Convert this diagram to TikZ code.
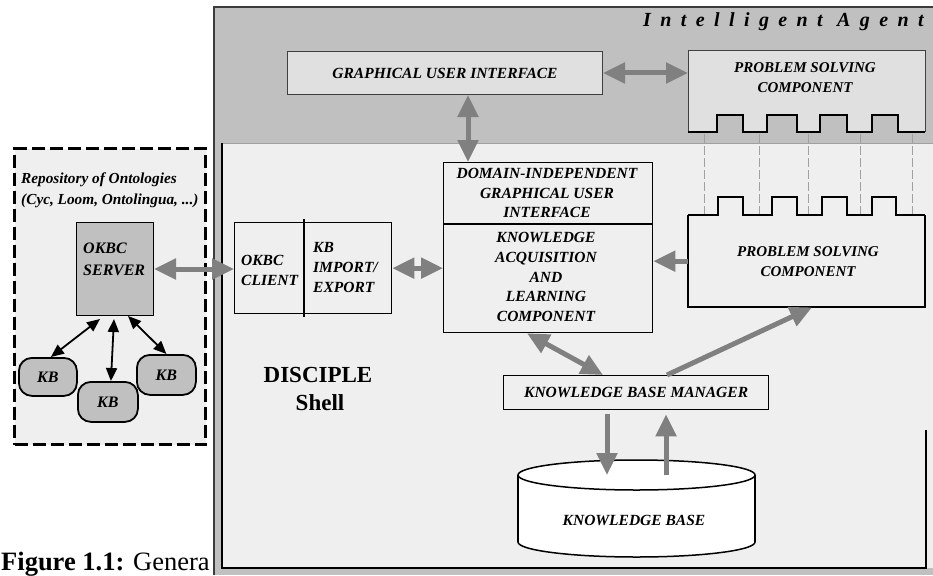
\documentclass[tikz,border=0pt]{standalone}
\usepackage{fontspec}
\setmainfont{Liberation Serif}
\newfontfamily\agentfont[LetterSpace=47]{Liberation Serif}
\usetikzlibrary{arrows.meta,calc}

\definecolor{agentgray}{HTML}{C0C0C0}
\definecolor{panelgray}{HTML}{EFEFEF}
\definecolor{boxgray}{HTML}{E0E0E0}
\definecolor{arrowgray}{HTML}{808080}
\definecolor{framedark}{HTML}{3C3C3C}
\definecolor{linkgray}{HTML}{A0A0A0}

\tikzset{
  lbl/.style={font=\fontsize{15.5}{19.7}\selectfont\bfseries\itshape, inner sep=0pt, align=center},
  lblleft/.style={font=\fontsize{15.5}{20}\selectfont\bfseries\itshape, inner sep=0pt, align=left, anchor=west},
  panelbox/.style={draw=black, line width=1.3pt, fill=panelgray, inner sep=0pt, anchor=north west},
  topbox/.style={draw=black!75, line width=1pt, fill=boxgray, inner sep=0pt, anchor=north west},
  hidden/.style={inner sep=0pt, anchor=north west},
  kbnode/.style={draw=black, line width=1.8pt, fill=agentgray, rounded corners=13pt, inner sep=0pt,
                 anchor=north west, font=\fontsize{16}{18}\selectfont\bfseries\itshape},
  bigone/.style={draw=arrowgray, line width=5pt, -{Triangle[length=22pt,width=20pt]}},
  bigtwo/.style={draw=arrowgray, line width=5pt, {Triangle[length=22pt,width=20pt]}-{Triangle[length=22pt,width=20pt]}},
  smalltwo/.style={draw=black, line width=1.8pt, {Triangle[length=13pt,width=11pt]}-{Triangle[length=13pt,width=11pt]}},
  link/.style={draw=linkgray, line width=0.8pt, dash pattern=on 9pt off 3pt},
  wave/.style={draw=black, line width=2pt, line join=miter},
}

\begin{document}
\begin{tikzpicture}[x=1pt,y=-1pt]
\useasboundingbox (0,0) rectangle (933,575);

% caption, partly hidden by the agent frame
\node[anchor=base west, inner sep=0pt, font=\fontsize{26.5}{30}\selectfont] (caption) at (1,570)
  {\textbf{Figure 1.1:} Genera};

% ---------------- repository of ontologies ----------------
\node[draw=black, line width=3pt, dash pattern=on 13pt off 5pt, fill=panelgray,
      minimum width=191pt, minimum height=296pt, anchor=north west, inner sep=0pt] (repo) at (13,147) {};
\node[lblleft, font=\fontsize{15.3}{21}\selectfont\bfseries\itshape] (repotext) at (21,190)
  {Repository of Ontologies\\(Cyc, Loom, Ontolingua, ...)};

\node[draw=black, line width=1pt, fill=agentgray, minimum width=77pt, minimum height=93pt,
      anchor=north west, inner sep=0pt] (srv) at (76,222) {};
\node[lblleft, font=\fontsize{16}{22}\selectfont\bfseries\itshape] (srvtext) at (83,259) {OKBC\\SERVER};

\node[kbnode, minimum width=58pt, minimum height=38pt] (kbL) at (18,357) {KB};
\node[kbnode, minimum width=60pt, minimum height=40pt] (kbM) at (77,381) {KB};
\node[kbnode, minimum width=59pt, minimum height=40pt] (kbR) at (136,354) {KB};

\draw[smalltwo] ([xshift=24pt,yshift=-3pt]srv.south west) -- ([xshift=3pt]kbL.north);
\draw[smalltwo] ([xshift=38pt,yshift=-3pt]srv.south west) -- ([xshift=3pt]kbM.north);
\draw[smalltwo] ([xshift=52pt]srv.south west) -- (kbR.north);

% ---------------- intelligent agent frame ----------------
\fill[agentgray] (214,7) rectangle (933,575);
\fill[panelgray] (222,143) rectangle (933,568);
\draw[framedark, line width=1.5pt] (214,575) -- (214,7) -- (933,7);
\draw[linkgray, line width=1pt] (222,143) -- (933,143);
\draw[black, line width=1.5pt] (222,143) -- (222,568) -- (926,568) -- (926,430);

\node[anchor=west, inner sep=0pt, font=\fontsize{20}{24}\selectfont\agentfont\bfseries\itshape] (title)
  at (643,22) {Intelligent Agent};

% upper row: user interface and problem solving component
\node[topbox, minimum width=315pt, minimum height=43pt, lbl] (gui) at (287,51) {GRAPHICAL USER INTERFACE};

\node[hidden, minimum width=237pt, minimum height=81pt] (pscT) at (688,51) {};
\begin{scope}[shift={(pscT.north west)}]
  \path[fill=boxgray] (0,0) -- (237,0) -- (237,81) -- (210,81) -- (210,64) -- (184,64) -- (184,81)
    -- (159,81) -- (159,64) -- (132,64) -- (132,81) -- (109,81) -- (109,64) -- (79,64) -- (79,81)
    -- (55,81) -- (55,64) -- (29,64) -- (29,81) -- (0,81) -- cycle;
  \draw[black!75, line width=1pt] (0,81) -- (0,0) -- (237,0) -- (237,81);
  \draw[wave] (0,81) -- (29,81) -- (29,64) -- (55,64) -- (55,81) -- (79,81) -- (79,64) -- (109,64)
    -- (109,81) -- (132,81) -- (132,64) -- (159,64) -- (159,81) -- (184,81) -- (184,64) -- (210,64)
    -- (210,81) -- (237,81);
\end{scope}
\node[lbl, font=\fontsize{15}{20}\selectfont\bfseries\itshape] (pscTtext) at (805,78) {PROBLEM SOLVING\\COMPONENT};

% ---------------- DISCIPLE shell ----------------
\node[panelbox, minimum width=209pt, minimum height=170pt] (dom) at (443,162) {};
\draw[black, line width=2pt] ($(dom.north west)+(0,62)$) -- ($(dom.north east)+(0,62)$);
\node[lbl] (domA) at (547,193) {DOMAIN-INDEPENDENT\\GRAPHICAL USER\\INTERFACE};
\node[lbl] (domB) at (546,277) {KNOWLEDGE\\ACQUISITION\\AND\\LEARNING\\COMPONENT};

\node[panelbox, minimum width=157pt, minimum height=91pt] (cli) at (234,222) {};
\draw[black, line width=2.5pt] ($(cli.north west)+(70,-3)$) -- ($(cli.south west)+(70,3)$);
\node[lblleft] (cliA) at (241,270) {OKBC\\CLIENT};
\node[lblleft] (cliB) at (313,267) {KB\\IMPORT/\\EXPORT};

\node[hidden, minimum width=237pt, minimum height=92pt] (pscL) at (688,215) {};
\begin{scope}[shift={(pscL.north west)}]
  \path[fill=panelgray] (0,0) -- (0,92) -- (237,92) -- (237,0) -- cycle;
  \draw[black, line width=1.3pt] (0,0) -- (0,92) -- (237,92) -- (237,0);
  \draw[wave] (0,0) -- (30,0) -- (30,-18) -- (55,-18) -- (55,0) -- (84,0) -- (84,-18) -- (109,-18)
    -- (109,0) -- (134,0) -- (134,-18) -- (159,-18) -- (159,0) -- (184,0) -- (184,-18) -- (208,-18)
    -- (208,0) -- (237,0);
\end{scope}
\node[lbl, font=\fontsize{15}{20}\selectfont\bfseries\itshape] (pscLtext) at (808,262) {PROBLEM SOLVING\\COMPONENT};

\foreach \dx in {16,71,120,172,224}
  \draw[link] ($(pscT.north west)+(\dx,83)$) -- ($(pscL.north west)+(\dx,-1)$);

\node[panelbox, minimum width=265pt, minimum height=34pt, lbl] (kbm) at (503,375) {KNOWLEDGE BASE MANAGER};

% knowledge base drum
\coordinate (cyltop) at (636.5,475);
\draw[black, line width=1.5pt, fill=white] (636.5,542) ellipse [x radius=118.5pt, y radius=15pt];
\fill[white] (518,475) rectangle (755,542);
\draw[black, line width=1.5pt] (518,475) -- (518,542) (755,475) -- (755,542);
\draw[black, line width=1.5pt, fill=white] (cyltop) ellipse [x radius=118.5pt, y radius=15pt];
\node[lbl, font=\fontsize{15.5}{18}\selectfont\bfseries\itshape] (kbtext) at (634,520) {KNOWLEDGE BASE};

\node[anchor=center, inner sep=0pt, font=\fontsize{23}{26}\selectfont\bfseries] (disc) at (318,375) {DISCIPLE};
\node[anchor=center, inner sep=0pt, font=\fontsize{23}{26}\selectfont\bfseries] (shell) at (320,403) {Shell};

% ---------------- connectors ----------------
\draw[bigtwo] (srv.east) -- (srv.east -| cli.west);
\draw[bigtwo] (cli.east) -- (cli.east -| dom.west);
\draw[bigtwo] (gui.east) -- (gui.east -| pscT.west);
\coordinate (guidown) at ([xshift=25pt]dom.north west);
\draw[bigtwo] (guidown |- gui.south) -- (guidown);
\draw[bigone] (pscL.west) -- (pscL.west -| dom.east);
\draw[bigtwo] ([xshift=84pt]dom.south west) -- ([xshift=100pt]kbm.north west);
\draw[bigone] ([xshift=164pt]kbm.north west) -- ([xshift=124pt]pscL.south west);
\coordinate (kbdown) at ([xshift=104pt,yshift=-4pt]kbm.south west);
\coordinate (kbup) at ([xshift=163pt,yshift=-4pt]kbm.south west);
\draw[bigone] (kbdown) -- (kbdown |- cyltop);
\draw[bigone] (kbup |- cyltop) -- (kbup);

\end{tikzpicture}
\end{document}
